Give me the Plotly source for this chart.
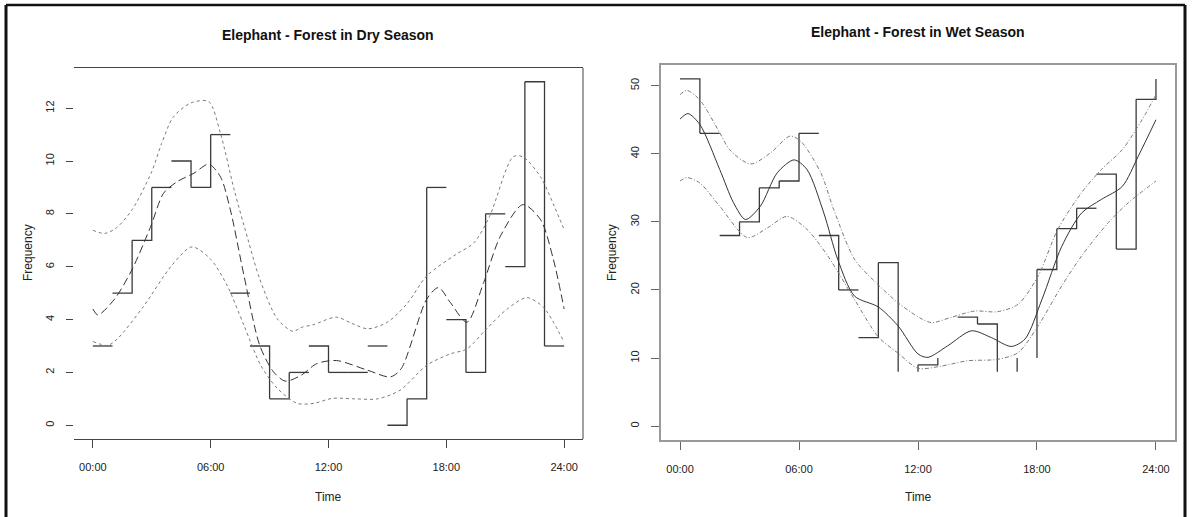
import plotly.graph_objects as go

W, H = 1193, 517

# hourly counts (hour h drawn from h to h+1)
hours = list(range(24))
dry_counts = [3, 5, 7, 9, 10, 9, 11, 5, 3, 1, 2, 3, 2, 2, 3, 0, 1, 9, 4, 2, 8, 6, 13, 3]
wet_counts = [51, 43, 28, 30, 35, 36, 43, 28, 20, 13, 24, 8, 9, 10, 16, 15, 8, 10, 23, 29, 32, 37, 26, 48]
# hours where the vertical riser of the step line is drawn
dry_risers = [2, 3, 5, 6, 9, 10, 12, 16, 17, 19, 20, 22, 23]
wet_risers = [1, 3, 4, 5, 6, 8, 10, 11, 12, 13, 15, 16, 17, 18, 19, 20, 22, 23, 24]
# hours whose flat top is not visible in the source
dry_no_top = []
wet_no_top = [11, 13, 16, 17]

# smoothed activity curve and its band, dry season
dry_mid_h = [0, 0.25, 1.1, 2.0, 2.95, 3.6, 4.3, 5.15, 5.9, 6.5, 7.0, 7.7, 8.5, 9.2, 9.8, 10.6, 11.4, 12.4,
             14.0, 15.15, 15.7, 17.0, 17.6, 18.2, 19.05, 19.9, 20.75, 21.9, 22.8, 23.45, 24]
dry_mid = [4.4, 4.17, 4.77, 5.9, 7.53, 8.78, 9.22, 9.54, 9.88, 9.4, 8.16, 5.65, 3.02, 2.02, 1.67, 1.89, 2.33, 2.45,
           2.08, 1.83, 2.14, 4.77, 5.21, 4.65, 3.9, 5.4, 7.15, 8.35, 7.78, 6.28, 4.4]
dry_up_h = [0, 0.6, 1.2, 2.0, 3.0, 3.5, 4.1, 5.0, 5.9, 6.5, 7.2, 7.9, 8.5, 9.4, 10.2, 10.6, 11.2, 12.4, 13.2,
            14.0, 15.0, 16.0, 17.0, 18.5, 19.4, 20.2, 21.4, 21.9, 22.8, 23.5, 24]
dry_up = [7.38, 7.26, 7.47, 8.16, 9.6, 10.66, 11.67, 12.2, 12.25, 11.04, 8.9, 7.03, 5.53, 4.02, 3.55, 3.7, 3.8, 4.09, 3.85,
          3.65, 3.9, 4.6, 5.65, 6.47, 6.9, 7.9, 10.16, 10.16, 9.4, 8.28, 7.4]
dry_lo_h = [0, 0.75, 1.25, 2.6, 4.0, 5.05, 6.0, 6.85, 7.7, 8.55, 9.4, 10.4, 11.25, 12.2, 13.3, 14.5, 15.65,
            17.0, 18.2, 19.05, 20.05, 21.1, 22.1, 22.95, 24]
dry_lo = [3.17, 3.02, 3.27, 4.52, 6.03, 6.75, 6.28, 5.27, 3.77, 2.27, 1.39, 0.83, 0.83, 1.02, 1.0, 1.0, 1.33,
          2.27, 2.7, 2.89, 3.65, 4.4, 4.83, 4.46, 3.14]

# wet season
wet_mid_h = [0, 0.4, 1.0, 2.0, 2.7, 3.3, 4.05, 4.9, 5.75, 6.4, 7.25, 7.95, 8.8, 10.0, 11.0, 12.0, 12.5, 13.5,
             14.7, 15.7, 16.7, 17.4, 18.25, 19.25, 20.25, 21.25, 22.3, 23.1, 24]
wet_mid = [45.1, 45.9, 44.3, 37.7, 32.8, 30.35, 32.3, 37.2, 39.1, 37.7, 31.3, 24.5, 19.1, 17.5, 14.7, 10.6, 10.1, 11.8,
           14.0, 13.0, 11.7, 12.8, 18.6, 26.4, 31.3, 33.3, 35.2, 39.6, 45.0]
wet_up_h = [0, 0.35, 1.0, 2.0, 2.5, 3.55, 4.55, 5.55, 6.1, 7.1, 7.75, 8.8, 9.8, 11.0, 12.15, 12.7, 13.7, 14.85,
            16.0, 17.05, 18.05, 19.05, 20.25, 21.25, 22.3, 23.3, 24]
wet_up = [48.7, 49.3, 47.9, 43.1, 40.6, 38.5, 40.1, 42.6, 41.8, 37.2, 31.8, 24.5, 21.3, 18.1, 15.8, 15.2, 16.0, 16.9,
          16.8, 17.9, 22.0, 28.9, 34.3, 37.7, 40.6, 45.0, 48.7]
wet_lo_h = [0, 0.35, 1.0, 2.0, 3.4, 4.4, 5.4, 6.4, 7.45, 8.8, 10.0, 11.0, 12.0, 13.15, 14.5, 16.0, 17.05, 18.05,
            19.25, 20.25, 21.6, 22.6, 24]
wet_lo = [36.0, 36.5, 35.7, 32.3, 27.7, 29.1, 30.8, 28.9, 25.0, 18.6, 13.1, 10.7, 8.5, 8.8, 9.6, 9.8, 10.8, 14.7,
          20.6, 25.0, 29.9, 32.8, 36.0]

tick_vals = [0, 6, 12, 18, 24]
tick_text = ["00:00", "06:00", "12:00", "18:00", "24:00"]


def step_xy(counts, risers, no_top):
    xs, ys = [], []
    n = len(counts)
    for h in hours:
        v = counts[h]
        if h not in no_top:
            xs += [h, h + 1]
            ys += [v, v]
        else:
            xs += [h + 1]
            ys += [v]
        if h + 1 in risers:
            xs += [h + 1]
            ys += [counts[(h + 1) % n]]
        xs.append(None)
        ys.append(None)
    return xs, ys


fig = go.Figure()

panels = [
    ("x", "y", dry_counts, dry_risers, dry_no_top, (dry_mid_h, dry_mid), (dry_up_h, dry_up), (dry_lo_h, dry_lo),
     "8px,4px", "dot"),
    ("x2", "y2", wet_counts, wet_risers, wet_no_top, (wet_mid_h, wet_mid), (wet_up_h, wet_up), (wet_lo_h, wet_lo),
     "solid", "4px,2px,1px,2px"),
]
for xa, ya, counts, risers, no_top, mid, up, lo, mdash, bdash in panels:
    sx, sy = step_xy(counts, risers, no_top)
    fig.add_trace(go.Scatter(x=sx, y=sy, mode="lines", xaxis=xa, yaxis=ya,
                             line=dict(color="#3a3a3a", width=1.3), connectgaps=False))
    for (cx, cy) in (up, lo):
        fig.add_trace(go.Scatter(x=cx, y=cy, mode="lines", xaxis=xa, yaxis=ya,
                                 line=dict(color="#7a7a7a", width=1, dash=bdash, shape="spline", smoothing=0.8)))
    fig.add_trace(go.Scatter(x=mid[0], y=mid[1], mode="lines", xaxis=xa, yaxis=ya,
                             line=dict(color="#333333", width=1, dash=mdash, shape="spline", smoothing=0.8)))

tickfont = dict(family="Liberation Sans, Arial", size=11, color="#222222")

fig.update_layout(
    width=W, height=H,
    margin=dict(l=0, r=0, t=0, b=0),
    paper_bgcolor="white", plot_bgcolor="white",
    showlegend=False,
    xaxis=dict(domain=[74 / W, 583 / W], range=[-0.96, 24.96], tickvals=tick_vals, ticktext=tick_text,
               ticks="outside", ticklen=8, tickcolor="#444", showgrid=False, zeroline=False,
               showline=True, mirror=True, linecolor="#444", linewidth=1, tickfont=tickfont,
               ticklabelstandoff=10, anchor="y"),
    yaxis=dict(domain=[1 - 439 / H, 1 - 68 / H], range=[-0.52, 13.52], tickvals=[0, 2, 4, 6, 8, 10, 12],
               ticks="outside", ticklen=7, tickcolor="#444", showgrid=False, zeroline=False,
               showline=False, tickangle=-90, tickfont=tickfont, ticklabelstandoff=8, anchor="x"),
    xaxis2=dict(domain=[661 / W, 1175 / W], range=[-0.96, 24.96], tickvals=tick_vals, ticktext=tick_text,
                ticks="outside", ticklen=8, tickcolor="#666", showgrid=False, zeroline=False,
                showline=True, mirror=True, linecolor="#999", linewidth=1.5, tickfont=tickfont,
                ticklabelstandoff=10, anchor="y2"),
    yaxis2=dict(domain=[1 - 440 / H, 1 - 65 / H], range=[-2.04, 53.04], tickvals=[0, 10, 20, 30, 40, 50],
                ticks="outside", ticklen=8, tickcolor="#666", showgrid=False, zeroline=False,
                showline=True, mirror=True, linecolor="#999", linewidth=1.5, tickangle=-90,
                tickfont=tickfont, ticklabelstandoff=8, anchor="x2"),
)

# right edge of the left panel box and the outer frame of the figure
shapes = [
    dict(type="line", xref="paper", yref="paper", x0=583 / W, x1=583 / W, y0=1 - 439 / H, y1=1 - 68 / H,
         line=dict(color="#444", width=1)),
    dict(type="line", xref="paper", yref="paper", x0=6 / W, x1=6 / W, y0=0, y1=1 - 5 / H,
         line=dict(color="#111", width=3)),
    dict(type="line", xref="paper", yref="paper", x0=6 / W, x1=1185 / W, y0=1 - 5 / H, y1=1 - 5 / H,
         line=dict(color="#111", width=2.5)),
    dict(type="line", xref="paper", yref="paper", x0=1185 / W, x1=1185 / W, y0=0, y1=1 - 5 / H,
         line=dict(color="#111", width=3)),
]
fig.update_layout(shapes=shapes)

lab = dict(family="Liberation Sans, Arial", size=12, color="#222222")
ttl = dict(family="Liberation Sans, Arial", size=14, color="#111111")
annotations = [
    dict(text="<b>Elephant - Forest in Dry Season</b>", x=328 / W, y=1 - 35 / H, font=ttl),
    dict(text="<b>Elephant - Forest in Wet Season</b>", x=918 / W, y=1 - 32 / H, font=ttl),
    dict(text="Time", x=328 / W, y=1 - 497 / H, font=lab),
    dict(text="Time", x=918 / W, y=1 - 497 / H, font=lab),
    dict(text="Frequency", x=28 / W, y=1 - 253 / H, font=lab, textangle=-90),
    dict(text="Frequency", x=612 / W, y=1 - 253 / H, font=lab, textangle=-90),
]
for a in annotations:
    a.update(xref="paper", yref="paper", showarrow=False, xanchor="center", yanchor="middle")
fig.update_layout(annotations=annotations)

fig.write_html("out.html", config={"displayModeBar": False},
               post_script="document.body.style.margin='0';document.body.style.overflow='hidden';")
